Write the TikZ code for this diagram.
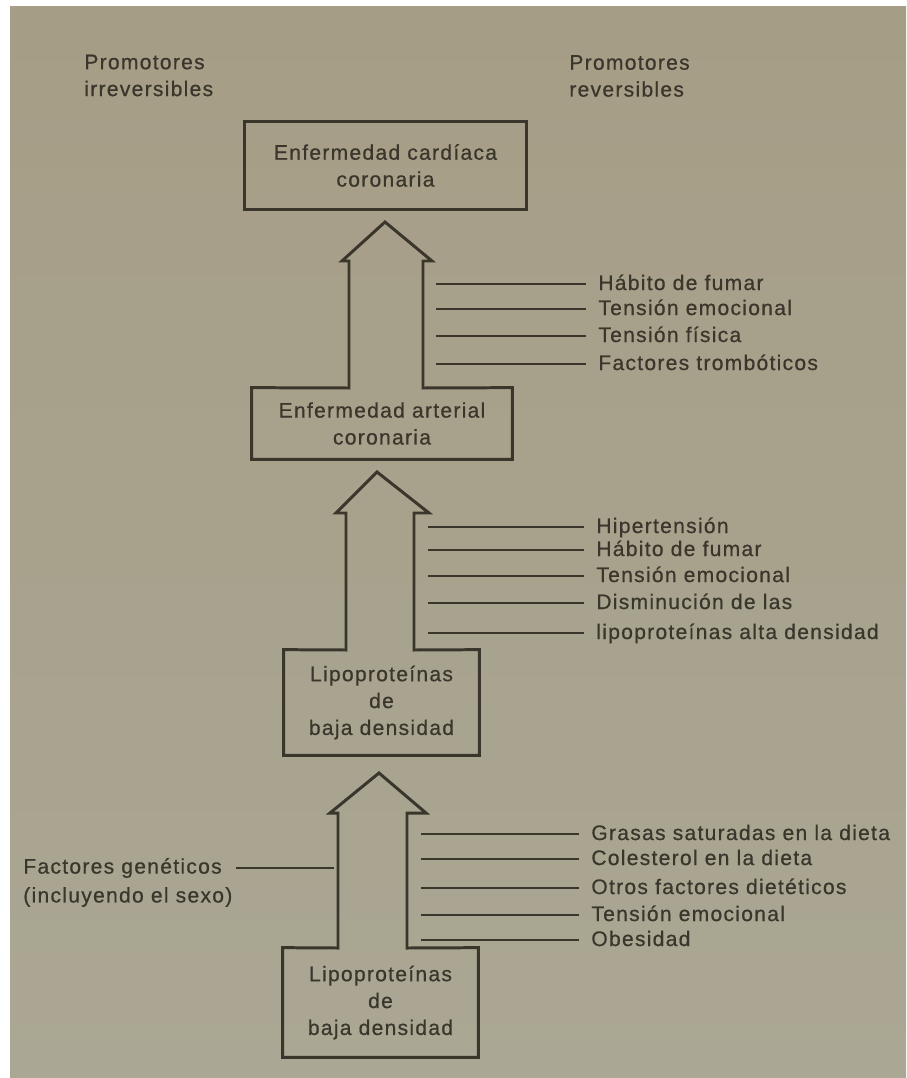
\documentclass[tikz,border=0pt]{standalone}
\usepackage{fontspec}
\setmainfont{Liberation Sans}[LetterSpace=6,FakeBold=0.6]
\usetikzlibrary{calc}

\definecolor{ink}{RGB}{58,54,44}
\definecolor{pagetop}{RGB}{166,157,134}
\definecolor{pagebot}{RGB}{170,167,148}

\newcommand{\diafont}{\fontsize{12}{15.3}\selectfont}

\tikzset{
  blk/.style={inner sep=0pt, align=center, font=\diafont, text=ink},
  outl/.style={draw=ink, line width=1.7pt, line join=miter},
  factor/.style={anchor=west, inner xsep=0.24cm, inner ysep=0pt, text height=1.6ex, text depth=0.3ex, font=\diafont, text=ink},
  factline/.style={draw=ink, line width=1.4pt},
  head/.style={anchor=west, align=left, inner sep=0pt, font=\diafont, text=ink}
}

\begin{document}
\begin{tikzpicture}[x=0.02cm, y=-0.02cm]

	% page
	\useasboundingbox (0,0) rectangle (906,1078);
	\fill[white] (0,0) rectangle (906,1078);
	\shade[top color=pagetop, bottom color=pagebot] (10,7) rectangle (906,1078);

	\node[head] (pirr) at (84,75.5) {Promotores\\irreversibles};
	\node[head] (prev) at (569,76) {Promotores\\reversibles};

	% boxes
	\node[blk, draw=ink, line width=1.7pt, minimum width=5.66cm, minimum height=1.78cm] (ecc) at (385.5,165.5) {Enfermedad cardíaca\\coronaria};
	\node[blk, minimum width=5.2cm, minimum height=1.42cm] (eac) at (382,423.5) {Enfermedad arterial\\coronaria};
	\node[blk, minimum width=3.9cm, minimum height=2.1cm] (ldl) at (381.5,702.5) {Lipoproteínas\\de\\baja densidad};
	\node[blk, minimum width=3.9cm, minimum height=2.18cm] (ldlb) at (380.5,1002.5) {Lipoproteínas\\de\\baja densidad};

	% arrows
	\coordinate (t1) at (385,222);
	\coordinate (t2) at (377,472);
	\coordinate (t3) at (379,773);

	\draw[outl] (349,388) -- (eac.north west) -- (eac.south west) -- (eac.south east) -- (eac.north east) -- (423,388) -- (423,261) -- (432,261) -- (t1) -- (342,261) -- (349,261) -- cycle;
	\draw[outl] (346,650) -- (ldl.north west) -- (ldl.south west) -- (ldl.south east) -- (ldl.north east) -- (414,650) -- (414,513) -- (429,513) -- (t2) -- (336,513) -- (346,513) -- cycle;
	\draw[outl] (338,948) -- (ldlb.north west) -- (ldlb.south west) -- (ldlb.south east) -- (ldlb.north east) -- (407,948) -- (407,813) -- (426,813) -- (t3) -- (330,813) -- (338,813) -- cycle;

	% promotores, first arrow
	\coordinate (r1) at (436,0);
	\node[factor] (fa1) at (586,284) {Hábito de fumar};
	\node[factor] (fa2) at (586,309) {Tensión emocional};
	\node[factor] (fa3) at (586,336) {Tensión física};
	\node[factor] (fa4) at (586,364) {Factores trombóticos};
	\foreach \f in {fa1,fa2,fa3,fa4}
		\draw[factline] (\f.west) -- (\f.west -| r1);

	% promotores, second arrow
	\coordinate (r2) at (428,0);
	\node[factor] (fb1) at (584,527) {Hipertensión};
	\node[factor] (fb2) at (584,550) {Hábito de fumar};
	\node[factor] (fb3) at (584,576) {Tensión emocional};
	\node[factor] (fb4) at (584,603) {Disminución de las};
	\node[factor] (fb5) at (584,633) {lipoproteínas alta densidad};
	\foreach \f in {fb1,fb2,fb3,fb4,fb5}
		\draw[factline] (\f.west) -- (\f.west -| r2);

	% promotores, third arrow
	\coordinate (r3) at (421,0);
	\node[factor] (fc1) at (579,834) {Grasas saturadas en la dieta};
	\node[factor] (fc2) at (579,859) {Colesterol en la dieta};
	\node[factor] (fc3) at (579,888) {Otros factores dietéticos};
	\node[factor] (fc4) at (579,915) {Tensión emocional};
	\node[factor] (fc5) at (579,940) {Obesidad};
	\foreach \f in {fc1,fc2,fc3,fc4,fc5}
		\draw[factline] (\f.west) -- (\f.west -| r3);

	% irreversibles
	\coordinate (lg) at (334,0);
	\node[head] (gen) at (23,868) {Factores genéticos};
	\node[head] (gsex) at (23,897) {(incluyendo el sexo)};
	\draw[factline] ([xshift=0.28cm]gen.east) -- (gen.east -| lg);

\end{tikzpicture}
\end{document}
